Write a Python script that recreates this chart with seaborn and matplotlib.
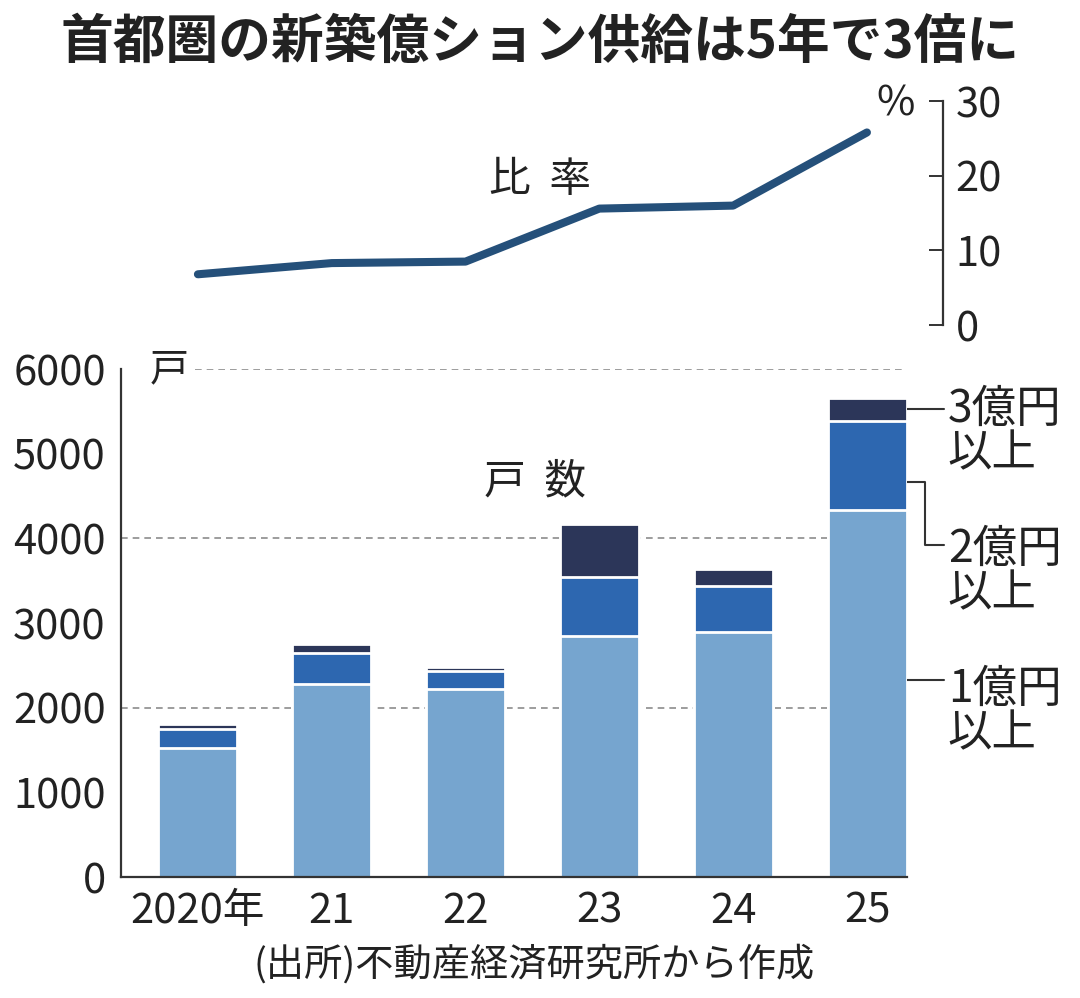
import numpy as np
import pandas as pd
import matplotlib
matplotlib.use("Agg")
import matplotlib.pyplot as plt
import seaborn as sns

# data
years = ["2020年", "21", "22", "23", "24", "25"]
band_1_2 = [1519, 2279, 2216, 2845, 2896, 4333]   # 1億円以上 (1-2億)
band_2_3 = [225, 362, 220, 700, 540, 1050]        # 2億円以上 (2-3億)
band_3 = [66, 110, 47, 623, 197, 276]             # 3億円以上
ratio = [6.8, 8.3, 8.5, 15.6, 16.0, 25.8]         # 比率 (%)
y_ticks = [0, 1000, 2000, 3000, 4000, 5000, 6000]
ratio_ticks = [0, 10, 20, 30]
grid_levels = [2000, 4000, 6000]

sns.set_theme(style="white")
plt.rcParams["font.family"] = ["Noto Sans CJK JP", "DejaVu Sans"]

ink = "#222222"
c_light, c_mid, c_dark = "#76a5cf", "#2d67b0", "#2c3659"
c_line = "#25507a"

df = pd.DataFrame({"year": years, "b1": band_1_2, "b2": band_2_3, "b3": band_3})
df["cum2"] = df["b1"] + df["b2"]
df["total"] = df["cum2"] + df["b3"]

fig = plt.figure(figsize=(10.8, 9.98), dpi=100)
ax = fig.add_axes([0.1120, 0.1212, 0.7278, 0.5090])
ax_top = fig.add_axes([0.1120, 0.6743, 0.7611, 0.2244])

# stacked bars: draw cumulative totals back to front
for col, color in [("total", c_dark), ("cum2", c_mid), ("b1", c_light)]:
    sns.barplot(data=df, x="year", y=col, color=color, width=0.59, ax=ax,
                edgecolor="white", linewidth=2, saturation=1, zorder=3)

for lvl in grid_levels:
    xmin = 0.094 if lvl == 6000 else 0
    ax.axhline(lvl, xmin=xmin, xmax=0.997, color="#8c8c8c", lw=1.2,
               ls=(0, (4, 3)), zorder=1)

ax.set_xlim(-0.575, 5.295)
ax.set_ylim(0, 6000)
ax.set_yticks(y_ticks)
ax.set_xticks(range(len(years)))
ax.set_xticklabels(years)
ax.set_xlabel("")
ax.set_ylabel("")
for s in ["top", "right"]:
    ax.spines[s].set_visible(False)
for s in ["left", "bottom"]:
    ax.spines[s].set_color("#333333")
    ax.spines[s].set_linewidth(1.6)
    ax.spines[s].set_zorder(4)
ax.tick_params(axis="y", direction="in", length=14, width=1.4, color="#333333",
               pad=11, labelsize=30, labelcolor=ink)
ax.tick_params(axis="x", length=0, pad=10, labelsize=30, labelcolor=ink)

ax.text(-0.36, 6000, "戸", fontsize=28, color=ink, ha="left", va="center")
ax.text(2.517, 4665, "戸  数", fontsize=30, color=ink, ha="center", va="center")

# right side labels with connectors
lkw = dict(color="#333333", lw=1.5, clip_on=False)
ax.plot([5.295, 5.57], [5530, 5530], **lkw)
ax.plot([5.295, 5.43, 5.43, 5.57], [4663, 4663, 3920, 3920], **lkw)
ax.plot([5.295, 5.57], [2326, 2326], **lkw)
tkw = dict(fontsize=32, color=ink, ha="left", va="center", linespacing=0.95)
ax.text(5.60, 5268, "3億円\n以上", **tkw)
ax.text(5.60, 3614, "2億円\n以上", **tkw)
ax.text(5.60, 1961, "1億円\n以上", **tkw)

# ratio line
sns.lineplot(x=np.arange(len(years)), y=ratio, ax=ax_top, color=c_line, lw=5.8,
             solid_capstyle="round")
ax_top.set_xlim(-0.575, 5.568)
ax_top.set_ylim(0, 30)
ax_top.set_yticks(ratio_ticks)
ax_top.set_xticks([])
ax_top.yaxis.tick_right()
for s in ["top", "left", "bottom"]:
    ax_top.spines[s].set_visible(False)
ax_top.spines["right"].set_color("#333333")
ax_top.spines["right"].set_linewidth(1.6)
ax_top.tick_params(axis="y", direction="in", length=10, width=1.4, color="#333333",
                   pad=9, labelsize=30, labelcolor=ink)
ax_top.text(5.36, 29.6, "%", fontsize=30, color=ink, ha="right", va="center")
ax_top.text(2.554, 19.4, "比  率", fontsize=30, color=ink, ha="center", va="center")

fig.text(0.5, 0.958, "首都圏の新築億ション供給は5年で3倍に", fontsize=38,
         fontweight="bold", color=ink, ha="center", va="center")
fig.text(0.495, 0.033, "(出所)不動産経済研究所から作成", fontsize=27.5,
         color=ink, ha="center", va="center")

fig.savefig("out.png", dpi=100, facecolor="white")
